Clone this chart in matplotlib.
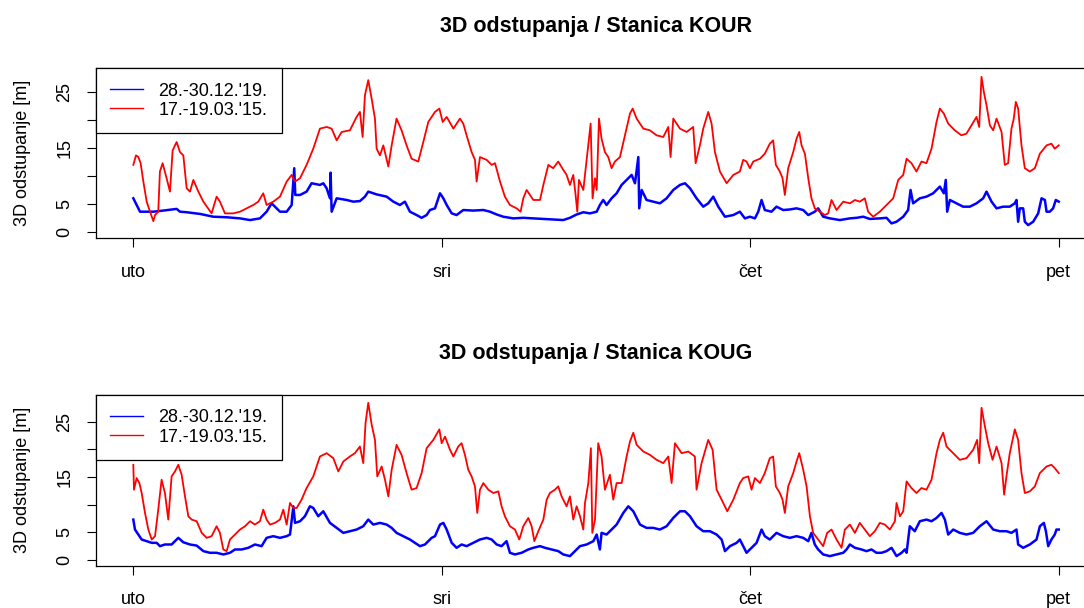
import matplotlib
matplotlib.use("Agg")
import matplotlib.pyplot as plt

plt.rcParams['font.family'] = ['Liberation Sans', 'DejaVu Sans']

# hours from Tuesday 00:00, values in metres
kour_blue_h = [0, 0.52, 1.04, 1.56, 2.33, 3.37, 3.63, 4.15, 5.19, 6.22, 7.26, 8.30, 9.08, 9.85, 10.37, 10.76,
               11.41, 11.93, 12.32, 12.52, 12.60, 12.97, 13.48, 13.87, 14.52, 14.78, 15.04, 15.30, 15.35, 15.43,
               15.82, 16.60, 17.11, 17.63, 18.02, 18.28, 18.93, 19.71, 20.23, 20.74, 21.13, 21.52, 22.04, 22.43,
               22.82, 23.08, 23.47, 23.86, 24.12, 24.38, 24.77, 25.15, 25.67, 26.45, 27.23, 27.75, 28.27, 28.78,
               29.56, 30.34, 31.12, 31.90, 32.67, 33.45, 33.97, 34.49, 35.01, 35.53, 36.05, 36.30, 36.56, 36.82,
               37.21, 37.60, 37.99, 38.38, 38.77, 39.03, 39.29, 39.36, 39.55, 39.93, 40.45, 40.97, 41.49, 42.01,
               42.53, 42.92, 43.31, 43.82, 44.34, 44.73, 45.12, 45.51, 46.03, 46.68, 47.19, 47.58, 47.97, 48.36,
               48.62, 48.88, 49.13, 49.65, 50.04, 50.56, 51.08, 51.60, 52.12, 52.51, 52.76, 53.02, 53.28, 53.67,
               54.19, 54.97, 55.75, 56.27, 56.78, 57.30, 58.08, 58.60, 58.99, 59.38, 59.90, 60.28, 60.47, 60.67,
               61.19, 61.71, 62.23, 62.75, 63.06, 63.21, 63.32, 63.53, 64.04, 64.56, 65.08, 65.60, 66.12, 66.38,
               66.77, 67.16, 67.67, 68.19, 68.58, 68.71, 68.84, 68.97, 69.23, 69.36, 69.62, 70.01, 70.40, 70.66,
               70.92, 71.05, 71.30, 71.56, 71.77, 72.0]
kour_blue_m = [6.0, 3.6, 3.6, 3.6, 3.8, 4.1, 3.6, 3.5, 3.2, 2.7, 2.6, 2.4, 2.1, 2.4, 3.6, 5.1,
               3.6, 3.6, 4.8, 11.4, 6.6, 6.6, 7.2, 8.7, 8.4, 8.7, 7.8, 6.0, 10.6, 3.6,
               6.0, 5.7, 5.4, 5.5, 6.3, 7.2, 6.7, 6.3, 5.4, 4.8, 5.4, 3.6, 3.0, 2.5,
               3.0, 3.9, 4.2, 6.9, 6.0, 4.8, 3.3, 3.0, 3.9, 3.8, 3.9, 3.6, 3.1, 2.7,
               2.4, 2.5, 2.4, 2.3, 2.2, 2.1, 2.5, 3.1, 3.5, 3.3, 3.6, 4.8, 5.7, 4.8,
               6.0, 6.9, 8.4, 9.3, 10.2, 8.7, 13.4, 4.2, 7.5, 5.7, 5.4, 5.1, 6.0, 7.5,
               8.4, 8.7, 7.8, 6.0, 4.5, 5.1, 6.3, 4.5, 2.7, 3.0, 3.6, 2.4, 2.7, 2.4,
               3.6, 5.7, 3.9, 3.6, 4.5, 3.9, 4.0, 4.2, 3.9, 3.0, 3.3, 3.6, 4.2, 2.7,
               2.4, 2.1, 2.4, 2.5, 2.7, 2.3, 2.4, 2.5, 1.5, 1.8, 2.7, 3.9, 7.5, 5.1,
               6.0, 6.3, 6.9, 8.1, 6.9, 9.3, 3.6, 5.7, 5.1, 4.5, 4.5, 5.1, 6.0, 7.2,
               5.4, 4.2, 4.5, 4.5, 5.1, 5.7, 1.8, 4.2, 4.2, 1.8, 1.2, 1.8, 3.3, 6.0,
               5.7, 3.6, 3.6, 4.2, 5.7, 5.4]

kour_red_h = [0, 0.21, 0.39, 0.57, 0.78, 1.04, 1.30, 1.56, 1.69, 1.94, 2.07, 2.28, 2.59, 2.85, 3.06, 3.37,
              3.63, 3.89, 4.15, 4.41, 4.67, 5.06, 5.45, 6.09, 6.48, 6.74, 7.13, 7.78, 8.30, 8.82, 9.33, 9.72,
              10.11, 10.37, 10.89, 11.41, 11.93, 12.32, 12.58, 12.97, 13.48, 14.00, 14.52, 15.04, 15.43, 15.82,
              16.21, 16.85, 17.37, 17.63, 17.84, 18.02, 18.28, 18.54, 18.80, 18.93, 19.19, 19.45, 19.84, 20.10,
              20.48, 20.87, 21.26, 21.65, 22.17, 22.56, 22.95, 23.47, 23.81, 24.07, 24.38, 24.90, 25.41, 25.67,
              25.93, 26.32, 26.58, 26.71, 26.97, 27.49, 27.88, 28.14, 28.53, 28.91, 29.30, 29.82, 30.13, 30.34,
              30.60, 30.86, 31.12, 31.64, 31.90, 32.29, 32.67, 33.06, 33.45, 33.71, 33.97, 34.23, 34.41, 34.54,
              34.67, 35.01, 35.58, 35.73, 35.92, 36.05, 36.23, 36.43, 36.69, 36.95, 37.21, 37.47, 37.86, 38.25,
              38.64, 38.85, 39.16, 39.68, 40.19, 40.71, 41.23, 41.62, 41.80, 42.01, 42.53, 43.05, 43.56, 43.75,
              44.08, 44.34, 44.73, 44.99, 45.25, 45.64, 46.16, 46.68, 47.19, 47.45, 47.71, 47.97, 48.23, 48.75,
              49.13, 49.52, 49.78, 49.99, 50.30, 50.51, 50.69, 50.95, 51.34, 51.60, 51.81, 51.99, 52.25, 52.51,
              52.76, 53.02, 53.41, 53.80, 54.06, 54.32, 54.71, 55.23, 55.75, 56.14, 56.52, 56.91, 57.17, 57.56,
              58.08, 58.60, 59.12, 59.51, 59.90, 60.16, 60.54, 60.93, 61.32, 61.71, 62.10, 62.49, 62.75, 63.06,
              63.40, 63.91, 64.43, 64.82, 65.21, 65.60, 65.81, 65.99, 66.17, 66.38, 66.64, 66.90, 67.16, 67.55,
              67.80, 68.06, 68.32, 68.50, 68.66, 68.84, 69.10, 69.36, 69.75, 70.14, 70.53, 71.05, 71.43, 71.69,
              72.0]
kour_red_m = [12.0, 13.7, 13.4, 12.3, 9.0, 5.4, 3.6, 1.9, 3.0, 3.6, 10.8, 12.3, 9.6, 7.2, 14.6, 16.1,
              14.3, 13.7, 7.8, 7.2, 9.3, 7.2, 5.4, 3.3, 6.3, 5.4, 3.3, 3.3, 3.6, 4.2, 4.8, 5.4,
              6.9, 4.8, 5.4, 6.3, 9.0, 10.2, 9.0, 9.6, 12.0, 14.9, 18.5, 18.8, 18.5, 16.4,
              17.9, 18.2, 20.6, 21.5, 17.0, 24.5, 27.2, 23.9, 20.3, 14.9, 13.7, 15.5, 11.7, 15.5,
              20.3, 18.2, 15.5, 13.1, 12.6, 16.1, 19.7, 21.5, 22.1, 19.7, 20.6, 18.5, 20.3, 19.4,
              17.3, 14.3, 12.9, 9.0, 13.4, 12.9, 12.0, 12.3, 9.0, 6.3, 4.8, 4.2, 3.6, 6.0,
              7.5, 6.6, 5.7, 5.7, 8.4, 12.0, 11.4, 12.6, 11.1, 10.2, 8.4, 10.2, 6.6, 3.6,
              9.3, 7.5, 19.4, 6.0, 9.6, 7.5, 20.3, 16.7, 14.3, 13.4, 11.4, 12.6, 13.4, 17.3,
              21.2, 22.1, 20.3, 18.5, 18.2, 17.3, 17.0, 18.8, 13.4, 20.3, 18.5, 17.9, 18.8, 12.3,
              15.5, 18.5, 21.5, 19.4, 14.3, 10.8, 8.7, 10.2, 10.8, 12.9, 12.6, 11.4, 12.6, 13.1,
              14.0, 15.8, 16.4, 12.0, 10.8, 9.6, 6.6, 11.4, 14.3, 16.7, 17.9, 15.5, 14.0, 9.6,
              6.0, 4.2, 3.6, 3.0, 3.3, 5.7, 3.9, 5.4, 5.1, 5.7, 5.4, 6.0, 3.6, 2.7,
              3.6, 4.8, 6.0, 9.3, 10.2, 13.1, 12.3, 10.8, 12.6, 12.3, 14.9, 19.7, 22.1, 21.2,
              19.4, 18.2, 17.3, 17.6, 19.1, 20.6, 18.8, 27.8, 25.1, 22.7, 19.1, 18.2, 20.3, 17.9,
              12.0, 12.3, 18.5, 20.3, 23.3, 22.1, 15.5, 11.4, 10.8, 11.4, 14.0, 15.5, 15.8, 14.9,
              15.5]

koug_blue_h = [0, 0.13, 0.39, 0.65, 1.04, 1.43, 1.82, 2.07, 2.46, 2.98, 3.50, 3.89, 4.41, 4.93, 5.45, 5.96,
               6.48, 7.00, 7.52, 7.91, 8.43, 8.95, 9.46, 9.98, 10.37, 10.89, 11.41, 11.93, 12.19, 12.45, 12.58,
               12.97, 13.35, 13.74, 14.00, 14.39, 14.78, 15.30, 15.82, 16.34, 16.85, 17.37, 17.89, 18.28, 18.67,
               19.19, 19.71, 20.10, 20.48, 21.00, 21.52, 21.91, 22.30, 22.69, 23.21, 23.47, 23.86, 24.12, 24.38,
               24.77, 25.15, 25.54, 25.93, 26.45, 26.97, 27.49, 27.88, 28.27, 28.65, 29.04, 29.30, 29.69, 30.21,
               30.73, 31.12, 31.64, 32.03, 32.54, 33.06, 33.45, 33.97, 34.36, 34.75, 35.27, 35.79, 36.05, 36.30,
               36.43, 36.82, 37.21, 37.60, 38.12, 38.51, 38.90, 39.42, 39.93, 40.45, 40.97, 41.49, 42.01, 42.53,
               42.92, 43.31, 43.82, 44.34, 44.86, 45.38, 45.77, 46.03, 46.42, 46.94, 47.19, 47.45, 47.71, 48.10,
               48.49, 48.88, 49.13, 49.52, 50.04, 50.56, 51.08, 51.60, 52.12, 52.51, 52.76, 53.02, 53.28, 53.67,
               54.19, 54.71, 55.23, 55.49, 55.75, 56.14, 56.65, 57.04, 57.43, 57.82, 58.21, 58.60, 58.99, 59.38,
               59.77, 60.03, 60.16, 60.41, 60.80, 61.19, 61.71, 62.10, 62.49, 62.88, 63.14, 63.40, 63.79, 64.30,
               64.82, 65.34, 65.86, 66.38, 66.90, 67.41, 67.93, 68.32, 68.71, 68.84, 69.23, 69.75, 70.27, 70.53,
               70.84, 71.00, 71.18, 71.43, 71.69, 71.82, 72.0]
koug_blue_m = [7.3, 5.5, 4.6, 3.7, 3.4, 3.1, 3.1, 2.5, 2.8, 2.8, 4.0, 3.2, 2.8, 2.6, 1.6, 1.3,
               1.3, 1.0, 1.3, 1.9, 1.9, 2.2, 2.8, 2.5, 4.0, 4.3, 4.0, 4.3, 4.6, 9.7, 6.7,
               7.0, 7.9, 9.7, 9.4, 7.9, 8.8, 6.7, 5.8, 4.9, 5.2, 5.5, 6.1, 7.3, 6.4,
               6.7, 6.4, 5.8, 4.9, 4.3, 3.7, 3.1, 2.5, 2.8, 4.0, 4.3, 6.4, 6.7, 5.5,
               3.1, 2.2, 2.8, 2.5, 3.1, 3.7, 4.0, 3.7, 2.8, 2.5, 3.4, 1.3, 1.0, 1.3,
               1.9, 2.2, 2.5, 2.2, 1.9, 1.6, 1.0, 0.7, 1.6, 2.5, 2.8, 3.4, 4.6, 1.9,
               4.9, 4.6, 5.5, 6.4, 8.5, 9.7, 8.8, 6.4, 5.8, 5.8, 5.5, 6.1, 7.6, 8.8,
               8.8, 7.9, 6.1, 5.2, 5.2, 4.6, 3.7, 1.6, 2.5, 3.1, 3.7, 2.5, 1.3, 2.2,
               3.1, 5.5, 4.3, 3.7, 4.9, 4.3, 4.0, 4.3, 4.0, 3.4, 4.9, 2.8, 1.9, 1.0,
               0.7, 1.0, 1.3, 1.9, 2.8, 2.2, 1.9, 1.6, 1.9, 1.3, 1.3, 1.6, 2.2, 0.7,
               1.3, 1.9, 1.3, 6.1, 5.2, 7.0, 7.3, 7.0, 7.6, 8.5, 7.3, 4.6, 5.5, 4.9,
               4.6, 4.9, 6.1, 7.0, 5.5, 5.2, 5.2, 4.9, 5.5, 2.8, 2.2, 2.8, 3.7, 6.1,
               6.7, 5.2, 2.5, 3.7, 4.6, 5.5, 5.5]

koug_red_h = [0, 0.05, 0.26, 0.47, 0.65, 0.91, 1.17, 1.43, 1.69, 1.94, 2.20, 2.46, 2.72, 2.98, 3.24, 3.50,
              3.76, 4.02, 4.28, 4.54, 4.93, 5.32, 5.71, 6.09, 6.48, 6.74, 7.00, 7.26, 7.52, 7.91, 8.30, 8.69,
              9.08, 9.46, 9.85, 10.11, 10.37, 10.63, 11.02, 11.41, 11.67, 11.93, 12.19, 12.45, 12.71, 13.09,
              13.48, 14.00, 14.52, 15.04, 15.56, 15.95, 16.34, 16.85, 17.24, 17.63, 17.89, 18.07, 18.28, 18.54,
              18.80, 18.98, 19.32, 19.58, 19.84, 20.10, 20.48, 20.87, 21.26, 21.65, 22.04, 22.43, 22.82, 23.34,
              23.81, 23.99, 24.25, 24.64, 24.90, 25.28, 25.54, 25.80, 26.06, 26.32, 26.58, 26.76, 26.97, 27.23,
              27.62, 28.01, 28.40, 28.65, 28.91, 29.30, 29.69, 30.03, 30.34, 30.73, 30.99, 31.20, 31.51, 31.90,
              32.16, 32.41, 32.80, 33.06, 33.32, 33.71, 33.97, 34.23, 34.49, 34.75, 35.01, 35.14, 35.40, 35.60,
              35.71, 35.92, 36.17, 36.43, 36.69, 37.08, 37.34, 37.60, 37.99, 38.38, 38.64, 38.90, 39.16, 39.68,
              40.19, 40.71, 41.23, 41.62, 41.88, 42.14, 42.66, 43.18, 43.69, 43.82, 44.21, 44.73, 45.07, 45.38,
              45.77, 46.21, 46.68, 47.19, 47.45, 47.84, 48.10, 48.36, 48.75, 49.13, 49.52, 49.78, 49.99, 50.30,
              50.51, 50.69, 50.95, 51.34, 51.60, 51.81, 52.12, 52.38, 52.64, 52.89, 53.28, 53.67, 53.98, 54.32,
              54.71, 55.10, 55.36, 55.75, 56.14, 56.52, 56.91, 57.30, 57.69, 58.08, 58.47, 58.86, 59.25, 59.38,
              59.64, 59.90, 60.16, 60.54, 60.93, 61.32, 61.71, 62.10, 62.49, 62.75, 63.01, 63.27, 63.79, 64.30,
              64.82, 65.34, 65.65, 65.81, 65.99, 66.25, 66.51, 66.85, 67.16, 67.55, 67.75, 67.93, 68.19, 68.58,
              68.84, 69.10, 69.36, 69.75, 70.14, 70.53, 71.05, 71.43, 71.69, 72.0]
koug_red_m = [17.2, 12.7, 14.8, 13.9, 12.1, 8.5, 5.5, 3.7, 4.3, 9.1, 14.5, 12.1, 7.3, 15.1, 16.0, 17.2,
              15.4, 11.5, 7.9, 7.3, 7.0, 4.9, 4.0, 4.3, 6.1, 4.9, 1.9, 1.6, 3.7, 4.6, 5.5, 6.1,
              7.0, 6.4, 7.0, 9.1, 7.3, 6.4, 6.7, 7.3, 9.1, 6.4, 10.3, 9.4, 9.4, 10.9,
              13.0, 15.1, 18.7, 19.3, 18.4, 16.0, 17.8, 18.7, 19.3, 20.5, 17.5, 24.8, 28.4, 24.5,
              21.7, 15.1, 16.9, 14.5, 11.5, 16.3, 20.8, 19.0, 15.7, 12.7, 13.0, 15.7, 20.2, 21.7,
              23.6, 21.1, 22.3, 19.9, 18.7, 20.5, 21.1, 19.0, 16.3, 15.1, 13.3, 8.5, 12.7, 13.9,
              12.7, 12.1, 12.4, 9.7, 7.9, 6.1, 5.5, 3.7, 6.1, 7.6, 6.1, 3.4, 5.2, 7.3,
              10.9, 12.1, 12.7, 13.3, 11.5, 9.7, 11.5, 7.3, 9.7, 7.9, 5.5, 10.3, 13.9, 20.2,
              4.9, 7.3, 21.1, 18.7, 12.7, 15.4, 10.9, 13.9, 13.9, 18.7, 21.4, 23.0, 20.8, 19.6,
              19.0, 18.1, 17.5, 18.7, 13.9, 21.1, 19.3, 19.6, 18.7, 12.7, 17.5, 21.7, 19.9, 12.7,
              10.9, 8.8, 10.9, 13.9, 14.8, 15.1, 12.7, 14.8, 13.9, 15.7, 18.4, 18.7, 13.3, 12.1,
              10.9, 8.5, 13.3, 15.7, 17.8, 19.3, 16.3, 13.3, 7.9, 4.9, 3.7, 2.5, 4.9, 5.5,
              3.7, 2.2, 5.5, 6.4, 4.9, 6.7, 5.5, 4.3, 5.2, 6.7, 6.4, 5.5, 7.0, 10.3,
              7.9, 8.8, 14.2, 13.0, 12.1, 13.0, 12.7, 14.5, 19.3, 21.7, 23.0, 20.5, 19.3, 18.1,
              18.4, 19.9, 21.7, 17.5, 27.5, 24.2, 21.1, 18.1, 20.5, 17.5, 11.8, 15.1, 19.3, 23.6,
              21.7, 15.7, 12.1, 12.4, 13.3, 15.7, 16.9, 17.2, 16.6, 15.7]

day_ticks = [0, 24, 48, 72]
day_labels = ["uto", "sri", "čet", "pet"]
y_ticks = [0, 5, 10, 15, 20, 25]
y_labels = ["0", "5", "", "15", "", "25"]
legend_labels = ["28.-30.12.'19.", "17.-19.03.'15."]


def draw_panel(ax, blue_h, blue_m, red_h, red_m, title, ylim):
    ax.plot(blue_h, blue_m, color="#0000ff", lw=1.8, label=legend_labels[0])
    ax.plot(red_h, red_m, color="#ff0000", lw=1.3, label=legend_labels[1])
    ax.set_xlim(-2.9, 74.9)
    ax.set_ylim(*ylim)
    ax.set_xticks(day_ticks)
    ax.set_xticklabels(day_labels)
    ax.set_yticks(y_ticks)
    ax.set_yticklabels(y_labels, rotation=90, va="center")
    ax.tick_params(axis="x", length=6.5, pad=12, labelsize=13, width=0.8)
    ax.tick_params(axis="y", length=6.5, pad=10, labelsize=13, width=0.8)
    ax.set_ylabel("3D odstupanje [m]", fontsize=13, labelpad=18)
    ax.set_title(title, fontsize=15.5, fontweight="bold", pad=26)
    for s in ax.spines.values():
        s.set_linewidth(0.9)
    leg = ax.legend(loc="upper left", bbox_to_anchor=(0, 1), borderaxespad=0, fancybox=False,
                    edgecolor="black", framealpha=1, fontsize=13, handlelength=1.8,
                    handletextpad=0.85, borderpad=0.8, labelspacing=0.12)
    leg.get_frame().set_linewidth(0.9)
    for line in leg.get_lines():
        line.set_linewidth(1.0)


fig = plt.figure(figsize=(10.84, 6.08), dpi=100)
ax1 = fig.add_axes([0.0886, 0.608, 0.9225, 0.280])
ax2 = fig.add_axes([0.0886, 0.0696, 0.9225, 0.2808])

draw_panel(ax1, kour_blue_h, kour_blue_m, kour_red_h, kour_red_m,
           "3D odstupanja / Stanica KOUR", (-1.18, 29.36))
draw_panel(ax2, koug_blue_h, koug_blue_m, koug_red_h, koug_red_m,
           "3D odstupanja / Stanica KOUG", (-1.03, 29.82))

fig.savefig("out.png", dpi=100)
